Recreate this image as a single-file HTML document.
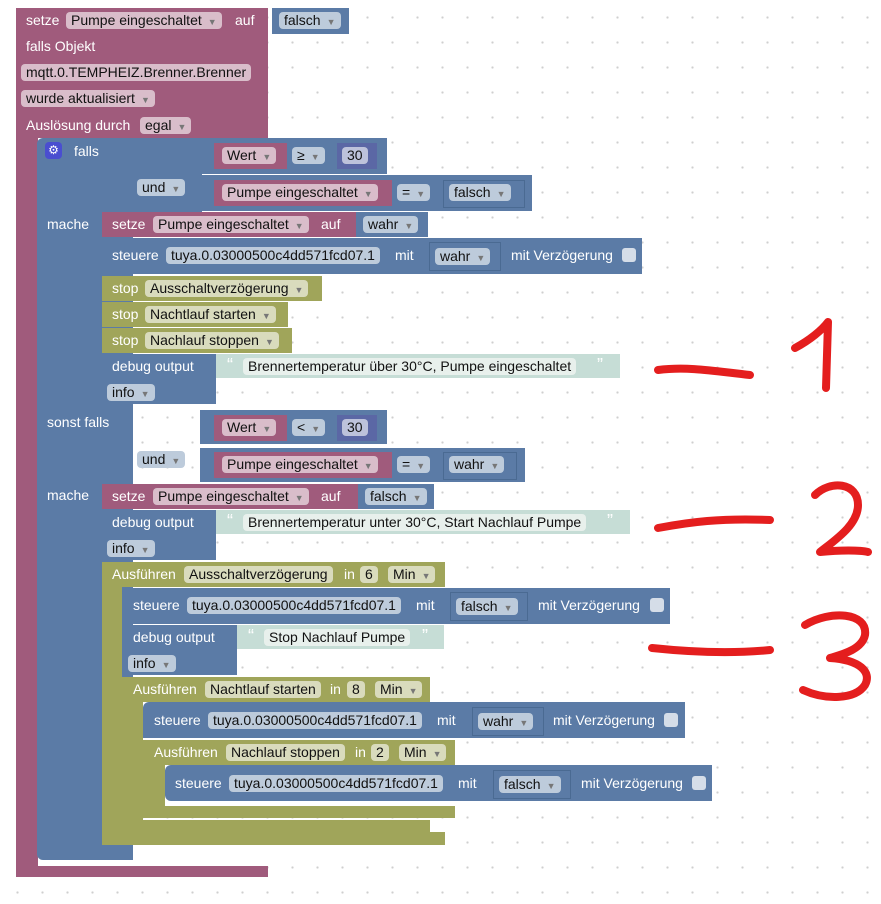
<!DOCTYPE html>
<html><head><meta charset="utf-8"><style>
body{margin:0;width:881px;height:904px;overflow:hidden;background:#fff;background-image:radial-gradient(circle,#cfcfcf 1px,transparent 1.3px);background-size:25px 25px;background-position:5px 5px;font-family:"Liberation Sans",sans-serif;font-size:14px;position:relative}
.b{position:absolute}
.P{background:#a05b7c}.B{background:#5b7ba6}.O{background:#a0a55a}.I{background:#5b67a5}.T{background:#c6ddd6}
.l{position:absolute;color:#fff;white-space:nowrap;line-height:17px}
.f{position:absolute;white-space:nowrap;height:17px;line-height:17px;padding:0 5px;border-radius:4px;color:#111}
.fp{background:#d9bdca}.fb{background:#bdcbdb}.fo{background:#d9dbbd}.ft{background:#e8f0ec}.fi{background:#bdc2db}
.f i{font-style:normal;font-size:9px;color:#777;margin-left:6px}
.cb{position:absolute;width:14px;height:14px;background:#d5dde8;border-radius:3px}
</style></head><body>
<!-- top setze -->
<div class="b P" style="left:16px;top:8px;width:252px;height:26px"></div>
<div class="b B" style="left:272px;top:8px;width:77px;height:26px"></div>
<div class="l" style="left:26px;top:12px">setze</div>
<div class="f fp" style="left:66px;top:12px">Pumpe eingeschaltet<i>▼</i></div>
<div class="l" style="left:235px;top:12px">auf</div>
<div class="f fb" style="left:279px;top:12px">falsch<i>▼</i></div>
<!-- big purple -->
<div class="b P" style="left:16px;top:34px;width:252px;height:104px"></div>
<div class="b P" style="left:16px;top:138px;width:22px;height:738px"></div>
<div class="b P" style="left:16px;top:866px;width:252px;height:11px"></div>
<div class="l" style="left:26px;top:38px">falls Objekt</div>
<div class="f fp" style="left:21px;top:64px">mqtt.0.TEMPHEIZ.Brenner.Brenner</div>
<div class="f fp" style="left:21px;top:90px">wurde aktualisiert<i>▼</i></div>
<div class="l" style="left:26px;top:117px">Auslösung durch</div>
<div class="f fp" style="left:140px;top:117px">egal<i>▼</i></div>
<!-- blue if -->
<div class="b B" style="left:37px;top:138px;width:96px;height:722px;border-radius:6px 0 0 6px"></div>
<div class="b B" style="left:132px;top:138px;width:70px;height:74px"></div>
<div class="b B" style="left:200px;top:138px;width:187px;height:36px"></div>
<div class="b B" style="left:200px;top:175px;width:332px;height:36px"></div>
<div class="b" style="left:45px;top:142px;width:17px;height:17px;background:#4a4ed0;border-radius:4px;color:#fff;font-size:12px;text-align:center;line-height:17px">⚙</div>
<div class="l" style="left:74px;top:143px">falls</div>
<div class="f fb" style="left:137px;top:179px">und<i>▼</i></div>
<div class="b P" style="left:214px;top:143px;width:73px;height:26px"></div>
<div class="f fp" style="left:222px;top:147px">Wert<i>▼</i></div>
<div class="f fb" style="left:292px;top:147px">≥<i>▼</i></div>
<div class="b I" style="left:337px;top:143px;width:40px;height:26px"></div>
<div class="f fi" style="left:342px;top:147px">30</div>
<div class="b P" style="left:214px;top:180px;width:178px;height:26px"></div>
<div class="f fp" style="left:222px;top:184px">Pumpe eingeschaltet<i>▼</i></div>
<div class="f fb" style="left:397px;top:184px">=<i>▼</i></div>
<div class="b B" style="left:443px;top:180px;width:80px;height:26px;border:1px solid #4a6a92"></div>
<div class="f fb" style="left:449px;top:184px">falsch<i>▼</i></div>
<div class="l" style="left:47px;top:216px">mache</div>
<!-- statements 1 -->
<div class="b P" style="left:102px;top:212px;width:254px;height:25px"></div>
<div class="b B" style="left:356px;top:212px;width:72px;height:25px"></div>
<div class="l" style="left:112px;top:216px">setze</div>
<div class="f fp" style="left:153px;top:216px">Pumpe eingeschaltet<i>▼</i></div>
<div class="l" style="left:321px;top:216px">auf</div>
<div class="f fb" style="left:363px;top:216px">wahr<i>▼</i></div>
<div class="b B" style="left:102px;top:238px;width:540px;height:36px"></div>
<div class="l" style="left:112px;top:247px">steuere</div>
<div class="f fb" style="left:166px;top:247px">tuya.0.03000500c4dd571fcd07.1</div>
<div class="l" style="left:395px;top:247px">mit</div>
<div class="b" style="left:429px;top:242px;width:70px;height:27px;border:1px solid #4a6a92"></div>
<div class="f fb" style="left:435px;top:248px">wahr<i>▼</i></div>
<div class="l" style="left:511px;top:247px">mit Verzögerung</div>
<div class="cb" style="left:622px;top:248px"></div>
<div class="b O" style="left:102px;top:276px;width:220px;height:25px"></div>
<div class="l" style="left:112px;top:280px">stop</div>
<div class="f fo" style="left:145px;top:280px">Ausschaltverzögerung<i>▼</i></div>
<div class="b O" style="left:102px;top:302px;width:186px;height:25px"></div>
<div class="l" style="left:112px;top:306px">stop</div>
<div class="f fo" style="left:145px;top:306px">Nachtlauf starten<i>▼</i></div>
<div class="b O" style="left:102px;top:328px;width:190px;height:25px"></div>
<div class="l" style="left:112px;top:332px">stop</div>
<div class="f fo" style="left:145px;top:332px">Nachlauf stoppen<i>▼</i></div>
<div class="b B" style="left:102px;top:354px;width:114px;height:50px"></div>
<div class="b T" style="left:216px;top:354px;width:404px;height:24px"></div>
<div class="l" style="left:112px;top:358px">debug output</div>
<div class="l" style="left:227px;top:357px;color:#fff;font-size:18px">“</div>
<div class="f ft" style="left:243px;top:358px">Brennertemperatur über 30°C, Pumpe eingeschaltet</div>
<div class="l" style="left:597px;top:357px;font-size:18px">”</div>
<div class="f fb" style="left:107px;top:384px">info<i>▼</i></div>
<!-- sonst falls -->
<div class="b B" style="left:200px;top:410px;width:187px;height:34px"></div>
<div class="b B" style="left:200px;top:448px;width:325px;height:34px"></div>
<div class="l" style="left:47px;top:414px">sonst falls</div>
<div class="f fb" style="left:137px;top:451px">und<i>▼</i></div>
<div class="b P" style="left:214px;top:415px;width:73px;height:26px"></div>
<div class="f fp" style="left:222px;top:419px">Wert<i>▼</i></div>
<div class="f fb" style="left:292px;top:419px">&lt;<i>▼</i></div>
<div class="b I" style="left:337px;top:415px;width:40px;height:26px"></div>
<div class="f fi" style="left:342px;top:419px">30</div>
<div class="b P" style="left:214px;top:452px;width:178px;height:26px"></div>
<div class="f fp" style="left:222px;top:456px">Pumpe eingeschaltet<i>▼</i></div>
<div class="f fb" style="left:397px;top:456px">=<i>▼</i></div>
<div class="b B" style="left:443px;top:452px;width:72px;height:26px;border:1px solid #4a6a92"></div>
<div class="f fb" style="left:449px;top:456px">wahr<i>▼</i></div>
<div class="l" style="left:47px;top:487px">mache</div>
<div class="b P" style="left:102px;top:484px;width:256px;height:25px"></div>
<div class="b B" style="left:358px;top:484px;width:76px;height:25px"></div>
<div class="l" style="left:112px;top:488px">setze</div>
<div class="f fp" style="left:153px;top:488px">Pumpe eingeschaltet<i>▼</i></div>
<div class="l" style="left:321px;top:488px">auf</div>
<div class="f fb" style="left:365px;top:488px">falsch<i>▼</i></div>
<div class="b B" style="left:102px;top:510px;width:114px;height:50px"></div>
<div class="b T" style="left:216px;top:510px;width:414px;height:24px"></div>
<div class="l" style="left:112px;top:514px">debug output</div>
<div class="l" style="left:227px;top:513px;font-size:18px">“</div>
<div class="f ft" style="left:243px;top:514px">Brennertemperatur unter 30°C, Start Nachlauf Pumpe</div>
<div class="l" style="left:607px;top:513px;font-size:18px">”</div>
<div class="f fb" style="left:107px;top:540px">info<i>▼</i></div>
<!-- Ausführen 1 -->
<div class="b O" style="left:102px;top:562px;width:343px;height:25px"></div>
<div class="b O" style="left:102px;top:587px;width:20px;height:258px"></div>
<div class="b O" style="left:102px;top:832px;width:343px;height:13px"></div>
<div class="l" style="left:112px;top:566px">Ausführen</div>
<div class="f fo" style="left:184px;top:566px">Ausschaltverzögerung</div>
<div class="l" style="left:344px;top:566px">in</div>
<div class="f fo" style="left:360px;top:566px">6</div>
<div class="f fo" style="left:388px;top:566px">Min<i>▼</i></div>
<div class="b B" style="left:122px;top:588px;width:548px;height:36px;border-radius:6px 0 0 0"></div>
<div class="l" style="left:133px;top:597px">steuere</div>
<div class="f fb" style="left:187px;top:597px">tuya.0.03000500c4dd571fcd07.1</div>
<div class="l" style="left:416px;top:597px">mit</div>
<div class="b" style="left:450px;top:592px;width:76px;height:27px;border:1px solid #4a6a92"></div>
<div class="f fb" style="left:456px;top:598px">falsch<i>▼</i></div>
<div class="l" style="left:538px;top:597px">mit Verzögerung</div>
<div class="cb" style="left:650px;top:598px"></div>
<div class="b B" style="left:122px;top:625px;width:115px;height:50px"></div>
<div class="b T" style="left:237px;top:625px;width:207px;height:24px"></div>
<div class="l" style="left:133px;top:629px">debug output</div>
<div class="l" style="left:248px;top:628px;font-size:18px">“</div>
<div class="f ft" style="left:264px;top:629px">Stop Nachlauf Pumpe</div>
<div class="l" style="left:422px;top:628px;font-size:18px">”</div>
<div class="f fb" style="left:128px;top:655px">info<i>▼</i></div>
<!-- Ausführen 2 -->
<div class="b O" style="left:122px;top:677px;width:308px;height:25px"></div>
<div class="b O" style="left:122px;top:700px;width:21px;height:132px"></div>
<div class="b O" style="left:122px;top:820px;width:308px;height:12px"></div>
<div class="l" style="left:133px;top:681px">Ausführen</div>
<div class="f fo" style="left:205px;top:681px">Nachtlauf starten</div>
<div class="l" style="left:330px;top:681px">in</div>
<div class="f fo" style="left:347px;top:681px">8</div>
<div class="f fo" style="left:375px;top:681px">Min<i>▼</i></div>
<div class="b B" style="left:143px;top:702px;width:542px;height:36px;border-radius:6px 0 0 0"></div>
<div class="l" style="left:154px;top:712px">steuere</div>
<div class="f fb" style="left:208px;top:712px">tuya.0.03000500c4dd571fcd07.1</div>
<div class="l" style="left:437px;top:712px">mit</div>
<div class="b" style="left:472px;top:707px;width:70px;height:27px;border:1px solid #4a6a92"></div>
<div class="f fb" style="left:478px;top:713px">wahr<i>▼</i></div>
<div class="l" style="left:553px;top:712px">mit Verzögerung</div>
<div class="cb" style="left:664px;top:713px"></div>
<!-- Ausführen 3 -->
<div class="b O" style="left:143px;top:740px;width:312px;height:25px"></div>
<div class="b O" style="left:143px;top:763px;width:22px;height:55px"></div>
<div class="b O" style="left:143px;top:806px;width:312px;height:12px"></div>
<div class="l" style="left:154px;top:744px">Ausführen</div>
<div class="f fo" style="left:226px;top:744px">Nachlauf stoppen</div>
<div class="l" style="left:355px;top:744px">in</div>
<div class="f fo" style="left:371px;top:744px">2</div>
<div class="f fo" style="left:399px;top:744px">Min<i>▼</i></div>
<div class="b B" style="left:165px;top:765px;width:547px;height:36px;border-radius:6px 0 0 6px"></div>
<div class="l" style="left:175px;top:775px">steuere</div>
<div class="f fb" style="left:229px;top:775px">tuya.0.03000500c4dd571fcd07.1</div>
<div class="l" style="left:458px;top:775px">mit</div>
<div class="b" style="left:493px;top:770px;width:76px;height:27px;border:1px solid #4a6a92"></div>
<div class="f fb" style="left:499px;top:776px">falsch<i>▼</i></div>
<div class="l" style="left:581px;top:775px">mit Verzögerung</div>
<div class="cb" style="left:692px;top:776px"></div>
<!-- red annotations -->
<svg class="b" style="left:0;top:0" width="881" height="904" fill="none" stroke="#e41e1e" stroke-width="8" stroke-linecap="round" stroke-linejoin="round">
<path d="M658 370 C690 366 720 372 750 375"/>
<path d="M795 348 C810 340 822 330 828 322 L826 388"/>
<path d="M658 528 C690 522 720 518 770 520"/>
<path d="M815 495 C830 480 858 482 858 505 C858 525 835 540 820 552 C840 550 860 550 868 552"/>
<path d="M652 648 C690 652 730 654 770 650"/>
<path d="M805 625 C830 610 868 612 865 635 C862 650 840 655 830 658 C860 660 872 672 865 685 C855 700 825 700 803 690"/>
</svg>
</body></html>
